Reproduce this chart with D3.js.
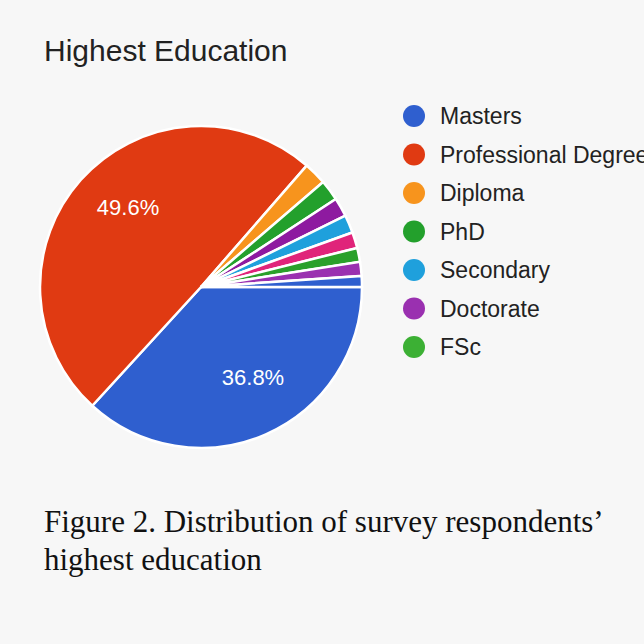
<!DOCTYPE html><html><head><script src="https://cdn.jsdelivr.net/npm/d3@7"></script>
<style>body{margin:0;background:#f7f7f7}</style></head><body><svg id="c" width="644" height="644"></svg>
<script>
const categories=["Masters","Professional Degree","Diploma","PhD","Secondary","Doctorate","FSc","Other1","Other2","Other3"];
const values=[36.8,49.6,2.3,2.1,1.9,1.8,1.6,1.4,1.4,1.1];
const colors=["#2f5fcf","#e03a12","#f7941d","#23a02c","#8e1aa0","#1fa0dc","#e0247a","#2aa02a","#9a30b0","#2f5fcf"];
const legendItems=["Masters","Professional Degree","Diploma","PhD","Secondary","Doctorate","FSc"];
const legendColors=["#2f5fcf","#e03a12","#f7941d","#23a02c","#1fa0dc","#9a30b0","#3cb034"];
const svg=d3.select("#c");
svg.append("rect").attr("width",644).attr("height",644).attr("fill","#f7f7f7");
svg.append("text").attr("x",44).attr("y",61).attr("font-family","Liberation Sans, Arial").attr("font-size",30).attr("fill","#222").text("Highest Education");
const g=svg.append("g").attr("transform","translate(201,287)");
const pie=d3.pie().sort(null).startAngle(Math.PI/2).endAngle(Math.PI/2+2*Math.PI);
const arcs=pie(values);
const arc=d3.arc().innerRadius(0).outerRadius(161);
g.selectAll("path").data(arcs).join("path").attr("d",arc).attr("fill",(d,i)=>colors[i]).attr("stroke","#fff").attr("stroke-width",2.5);
const lab=[[0,"36.8%",[52,98]],[1,"49.6%",[-73,-72]]];
lab.forEach(([i,t,p])=>g.append("text").attr("x",p[0]).attr("y",p[1]).attr("text-anchor","middle").attr("font-family","Liberation Sans, Arial").attr("font-size",22).attr("fill","#fff").text(t));
const lg=svg.append("g");
legendItems.forEach((t,i)=>{const y=116+i*38.5;
lg.append("circle").attr("cx",414).attr("cy",y).attr("r",11).attr("fill",legendColors[i]);
lg.append("text").attr("x",440).attr("y",y+8).attr("font-family","Liberation Sans, Arial").attr("font-size",23).attr("fill","#222").text(t);});
const ft=svg.append("text").attr("font-family","Liberation Serif, Times New Roman").attr("font-size",31).attr("fill","#111");
ft.append("tspan").attr("x",44).attr("y",532).text("Figure 2. Distribution of survey respondents’");
ft.append("tspan").attr("x",44).attr("y",570).text("highest education");
</script></body></html>
